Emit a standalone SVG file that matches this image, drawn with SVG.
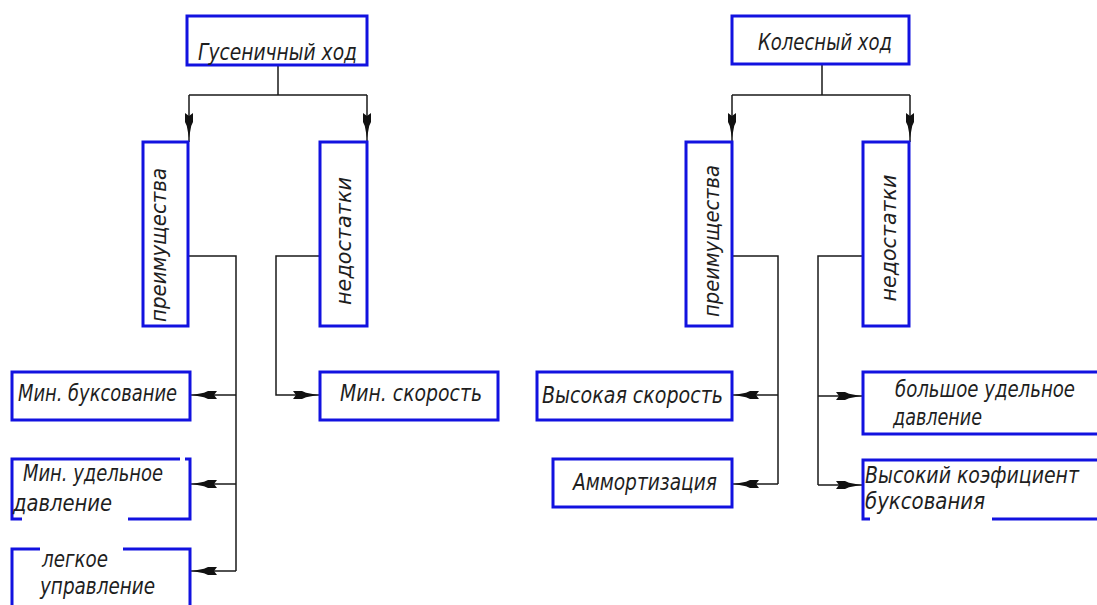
<svg xmlns="http://www.w3.org/2000/svg" width="1097" height="605" viewBox="0 0 1097 605">
<style>
.bx{fill:none;stroke:#1212e0;stroke-width:3}
.ln{fill:none;stroke:#1a1a1a;stroke-width:1.5}
.t{font-family:"DejaVu Sans Condensed","Liberation Sans Narrow","DejaVu Sans",sans-serif;font-style:italic;font-size:23px;fill:#1e1e1e}
.v{font-size:21px}
</style>
<defs>
<path id="ah" d="M0,0 L-12,-2.2 L-16,-4 L-25,-4 L-22,0 L-25,4 L-16,4 L-12,2.2 Z" fill="#111"/>
</defs>
<rect width="1097" height="605" fill="#fff"/>
<g id="connectors">
<path class="ln" d="M278,65 V95 M189,95 H367 M189,95 V142 M367,95 V142"/>
<path class="ln" d="M822,64 V95 M732,95 H910 M732,95 V142 M910,95 V142"/>
<path class="ln" d="M188,256 H236 V571 M190,395 H236 M190,484 H236 M190,571 H236"/>
<path class="ln" d="M320,256 H276 V395 H320"/>
<path class="ln" d="M732,256 H778 V484 M732,395 H778 M732,484 H778"/>
<path class="ln" d="M863,256 H818 V485 M818,396 H863 M818,485 H863"/>
<use href="#ah" transform="translate(189,138) rotate(90)"/>
<use href="#ah" transform="translate(367,138) rotate(90)"/>
<use href="#ah" transform="translate(732,138) rotate(90)"/>
<use href="#ah" transform="translate(910,138) rotate(90)"/>
<use href="#ah" transform="translate(192,395) rotate(180)"/>
<use href="#ah" transform="translate(192,484) rotate(180)"/>
<use href="#ah" transform="translate(192,571) rotate(180)"/>
<use href="#ah" transform="translate(318,395)"/>
<use href="#ah" transform="translate(734,395) rotate(180)"/>
<use href="#ah" transform="translate(734,484) rotate(180)"/>
<use href="#ah" transform="translate(861,396)"/>
<use href="#ah" transform="translate(861,485)"/>
</g>
<g id="gusenichny">
<rect class="bx" x="187" y="16" width="180" height="49"/>
<text class="t" x="198" y="60" font-size="26" textLength="159" lengthAdjust="spacingAndGlyphs">Гусеничный ход</text>
</g>
<g id="kolesny">
<rect class="bx" x="732" y="16" width="177" height="48"/>
<text class="t" x="758" y="50" font-size="26" textLength="134" lengthAdjust="spacingAndGlyphs">Колесный ход</text>
</g>
<g id="g-preim">
<rect class="bx" x="143" y="142" width="45" height="184"/>
<text class="t v" transform="translate(166,245) rotate(-90)" text-anchor="middle" textLength="154" lengthAdjust="spacingAndGlyphs">преимущества</text>
</g>
<g id="g-nedost">
<rect class="bx" x="320" y="142" width="47" height="184"/>
<text class="t v" transform="translate(351,241) rotate(-90)" text-anchor="middle" textLength="128" lengthAdjust="spacingAndGlyphs">недостатки</text>
</g>
<g id="k-preim">
<rect class="bx" x="686" y="142" width="46" height="184"/>
<text class="t v" transform="translate(719,241) rotate(-90)" text-anchor="middle" textLength="152" lengthAdjust="spacingAndGlyphs">преимущества</text>
</g>
<g id="k-nedost">
<rect class="bx" x="863" y="142" width="46" height="184"/>
<text class="t v" transform="translate(896,238) rotate(-90)" text-anchor="middle" textLength="127" lengthAdjust="spacingAndGlyphs">недостатки</text>
</g>
<g id="min-buks">
<rect class="bx" x="12" y="372" width="178" height="48"/>
<text class="t" x="18" y="401" textLength="159" lengthAdjust="spacingAndGlyphs">Мин. буксование</text>
</g>
<g id="min-udel">
<path class="bx" d="M185,459 H190 V519 H128 M22,519 H12 V459 H180"/>
<text class="t" x="23" y="481" textLength="140" lengthAdjust="spacingAndGlyphs">Мин. удельное</text>
<text class="t" x="13" y="511" textLength="99" lengthAdjust="spacingAndGlyphs">давление</text>
</g>
<g id="legkoe">
<path class="bx" d="M12,606 V549 H40 M123,549 H190 V606"/>
<text class="t" x="42" y="567" textLength="66" lengthAdjust="spacingAndGlyphs">легкое</text>
<text class="t" x="40" y="594" textLength="115" lengthAdjust="spacingAndGlyphs">управление</text>
</g>
<g id="min-skor">
<rect class="bx" x="320" y="372" width="178" height="48"/>
<text class="t" x="340" y="401" textLength="142" lengthAdjust="spacingAndGlyphs">Мин. скорость</text>
</g>
<g id="vys-skor">
<rect class="bx" x="537" y="372" width="195" height="48"/>
<text class="t" x="542" y="403" textLength="181" lengthAdjust="spacingAndGlyphs">Высокая скорость</text>
</g>
<g id="amort">
<rect class="bx" x="553" y="459" width="179" height="48"/>
<text class="t" x="573" y="490" textLength="144" lengthAdjust="spacingAndGlyphs">Аммортизация</text>
</g>
<g id="bolshoe">
<path class="bx" d="M1098,372 H863 V434 H1098"/>
<text class="t" x="895" y="397" textLength="180" lengthAdjust="spacingAndGlyphs">большое удельное</text>
<text class="t" x="893" y="425" textLength="89" lengthAdjust="spacingAndGlyphs">давление</text>
</g>
<g id="vys-koef">
<path class="bx" d="M1098,460 H863 V519 H870 M992,519 H1098"/>
<text class="t" x="865" y="483" textLength="214" lengthAdjust="spacingAndGlyphs">Высокий коэфициент</text>
<text class="t" x="865" y="509" textLength="120" lengthAdjust="spacingAndGlyphs">буксования</text>
</g>
</svg>
